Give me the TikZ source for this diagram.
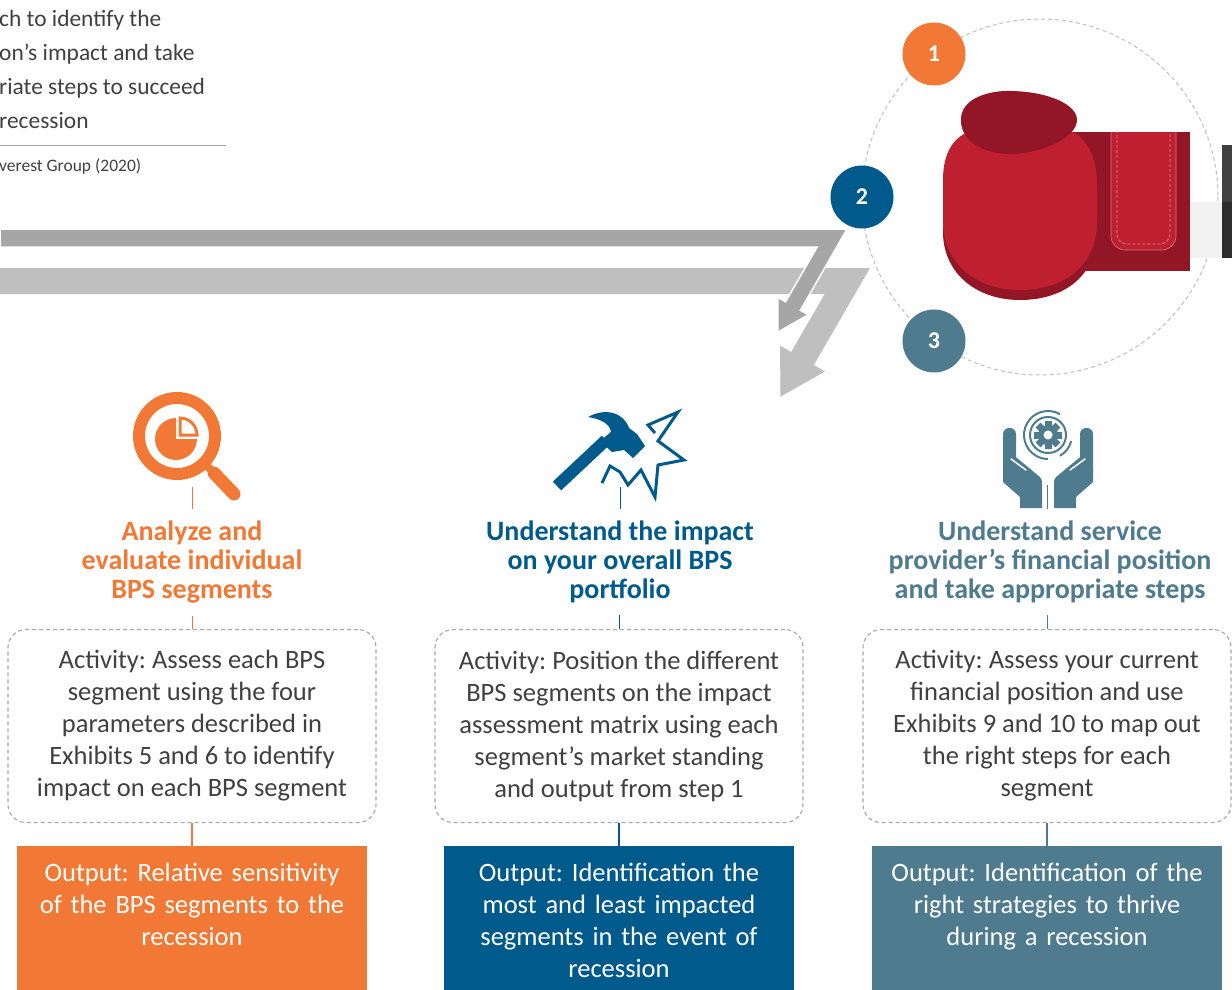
\documentclass[tikz,border=0pt]{standalone}
\usepackage{fontspec}
\setmainfont{Carlito}
\frenchspacing
\definecolor{orangeE}{RGB}{241,121,53}
\definecolor{bleuE}{RGB}{0,90,140}
\definecolor{tealE}{RGB}{78,123,142}
\definecolor{texte}{RGB}{64,64,64}
\definecolor{grisA}{RGB}{166,166,166}
\definecolor{grisB}{RGB}{191,191,191}
\definecolor{gantR}{RGB}{190,32,48}
\definecolor{gantF}{RGB}{146,22,38}

\begin{document}
\begin{tikzpicture}[x=1pt,y=-1pt]
\tikzset{titre/.style={align=center, text=#1, anchor=north, inner xsep=0pt, inner ysep=12pt, font=\fontsize{28}{29}\selectfont\bfseries},
  activite/.style={draw=grisA, dash pattern=on 4pt off 3pt, line width=1.1pt, rounded corners=18pt, minimum width=368pt, minimum height=193pt, anchor=north, align=center, text=texte, font=\fontsize{26.5}{32}\selectfont},
  sortie/.style={fill=#1, text=white, anchor=north, text width=330pt, align=center, inner xsep=10pt, inner ysep=17pt, text depth=125pt, font=\fontsize{26.5}{32}\selectfont},
  numero/.style={circle, fill=#1, text=white, minimum size=63pt, inner sep=0pt, font=\fontsize{24}{24}\selectfont\bfseries},
  lien/.style={draw=#1, line width=1pt},
  lienfort/.style={draw=#1, line width=2.5pt}}
\path[use as bounding box] (0,0) rectangle (1232,990);
\clip (0,0) rectangle (1232,990);
\node[anchor=north west, align=left, inner sep=0pt, text=texte, font=\fontsize{23.4}{34}\selectfont] (intro) at (-1,10) {ch to identify the\\on’s impact and take\\riate steps to succeed\\recession};
\draw[grisA, line width=1pt] (0,145) -- (226,145);
\node[anchor=west, inner sep=0pt, text=texte, font=\fontsize{17.5}{20}\selectfont] (src) at (-1,167) {verest Group (2020)};
% fleches
\fill[grisB] (0,268) -- (870,268) -- (813.8,365) -- (825,371.5) -- (780.5,396.6) -- (780,345.5) -- (791.2,352) -- (824.7,294) -- (0,294) -- cycle;
\filldraw[fill=grisA, draw=white, line width=1.5pt] (0,229) -- (847,229) -- (800.4,310.3) -- (808.2,314.8) -- (778,332) -- (777.8,297.3) -- (785.6,301.8) -- (817.2,247) -- (0,247) -- cycle;
\draw[grisB, dash pattern=on 4pt off 3pt, line width=1pt] (1040,197) circle[radius=178];
% gant
\fill[gray!10] (1189,202) rectangle (1222,258);
\fill[black!75] (1222,145) rectangle (1232,202);
\fill[black!82] (1222,202) rectangle (1232,258);
\fill[gantF] (1072,132) rectangle (1190,271);
\begin{scope}
\clip (1072,132) rectangle (1190,271);
\filldraw[fill=gantR, draw=gantR!60!white, line width=0.6pt, rounded corners=14pt] (1111,110) rectangle (1176,250);
\draw[gantR!55!white, dash pattern=on 3pt off 2pt, line width=0.8pt, rounded corners=10pt] (1117,110) rectangle (1170,244);
\end{scope}
\fill[gantF] (943,190) .. controls (943,150) and (965,138) .. (990,138) -- (1055,138) .. controls (1085,138) and (1097,165) .. (1097,195) -- (1097,232) .. controls (1097,275) and (1065,300) .. (1020,300) .. controls (975,300) and (943,272) .. (943,232) -- cycle;
\fill[gantR] (943,180) .. controls (943,140) and (965,128) .. (990,128) -- (1055,128) .. controls (1085,128) and (1097,155) .. (1097,185) -- (1097,222) .. controls (1097,265) and (1065,290) .. (1020,290) .. controls (975,290) and (943,262) .. (943,222) -- cycle;
\fill[gantF] (961,122) .. controls (959,98) and (990,90) .. (1012,91) .. controls (1050,92) and (1077,105) .. (1077,120) .. controls (1077,138) and (1040,154) .. (1010,154) .. controls (985,154) and (962,142) .. (961,122) -- cycle;
\node[numero=orangeE] (N1) at (934,54) {1};
\node[numero=bleuE] (N2) at (862,197) {2};
\node[numero=tealE] (N3) at (934,341) {3};
% icones
\draw[orangeE, line width=12pt] (177,436) circle[radius=38];
\draw[orangeE, line width=8pt] (204,463) -- (215,474);
\draw[orangeE, line width=13pt, line cap=round] (214,473) -- (234,494);
\fill[orangeE] (176,439) -- (176,418) arc[start angle=-90, end angle=-360, radius=21] -- cycle;
\filldraw[fill=white, draw=orangeE, line width=3pt, line join=miter] (180,435) -- (197,435) arc[start angle=0, end angle=-90, radius=17] -- cycle;
\draw[bleuE, line width=12pt] (557,486) -- (606,440);
\fill[bleuE] (588,417) .. controls (606,407) and (624,413) .. (629,428) -- (637,434) -- (645,446) -- (633,458) -- (624,450) -- (612,452) -- (600,441) -- (611,432) .. controls (610,424) and (601,419) .. (588,417) -- cycle;
\draw[bleuE, line width=3pt, line join=miter] (602,483) -- (610,466) -- (620,472) -- (628,485) -- (641,470) -- (655,497) -- (658,465) -- (684,460) -- (658,441) -- (678,412) -- (648,425) -- (655,433);
\draw[tealE, line width=2pt] (1048,435) circle[radius=18];
\draw[tealE, line width=2pt] (1048,435) ++(-60:24) arc[start angle=-60, end angle=-270, radius=24];
\draw[tealE, line width=2pt] (1048,435) ++(15:24) arc[start angle=15, end angle=60, radius=24];
\fill[tealE] (1048,435) circle[radius=10];
\foreach \a in {0,45,...,315}
  \fill[tealE, rotate around={\a:(1048,435)}] (1044.5,421) rectangle (1051.5,428);
\fill[white] (1048,435) circle[radius=4.5];
\foreach \s in {1,-1} {
  \begin{scope}[shift={(1048,0)}, xscale=\s]
  \fill[tealE, rounded corners=6pt] (-45,428) rectangle (-32,478);
  \fill[tealE] (-45,468) -- (-45,482) -- (-28,497) -- (-28,508) -- (-6,508) -- (-6,484) -- (-20,470) -- (-34,460) -- cycle;
  \draw[tealE, line width=14pt, line cap=round] (-36,463) -- (-13,482);
  \draw[white, line width=1.5pt, line cap=round] (-37,459) -- (-22,470);
  \end{scope}
}
\coordinate (I1) at (192,487);
\coordinate (I2) at (620,487);
\coordinate (I3) at (1047,485);
% etapes
\node[titre=orangeE] (T1) at (192,509) {Analyze and\\evaluate individual\\BPS segments};
\node[titre=bleuE] (T2) at (620,509) {Understand the impact\\on your overall BPS\\portfolio};
\node[titre=tealE] (T3) at (1050,509) {Understand service\\provider’s financial position\\and take appropriate steps};
\node[activite] (A1) at (192,629) {Activity: Assess each BPS\\segment using the four\\parameters described in\\Exhibits 5 and 6 to identify\\impact on each BPS segment};
\node[activite] (A2) at (619,629) {Activity: Position the different\\BPS segments on the impact\\assessment matrix using each\\segment’s market standing\\and output from step 1};
\node[activite] (A3) at (1047,629) {Activity: Assess your current\\financial position and use\\Exhibits 9 and 10 to map out\\the right steps for each\\segment};
\node[sortie=orangeE] (O1) at (192,846) {Output: Relative sensitivity\\of the BPS segments to the\\recession};
\node[sortie=bleuE] (O2) at (619,846) {Output: Identification the\\most and least impacted\\segments in the event of\\recession};
\node[sortie=tealE] (O3) at (1047,846) {Output: Identification of the\\right strategies to thrive\\during a recession};
\draw[lien=orangeE] (I1) -- (I1 |- T1.north);
\draw[lien=bleuE] (I2) -- (I2 |- T2.north);
\draw[lien=tealE] (I3) -- (I3 |- T3.north);
\draw[lien=orangeE] (T1.south) -- (T1.south |- A1.north);
\draw[lien=bleuE] (A2.north |- T2.south) -- (A2.north);
\draw[lien=tealE] (A3.north |- T3.south) -- (A3.north);
\draw[lienfort=orangeE] (A1.south) -- (O1.north);
\draw[lienfort=bleuE] (A2.south) -- (O2.north);
\draw[lienfort=tealE] (A3.south) -- (O3.north);
\end{tikzpicture}
\end{document}
